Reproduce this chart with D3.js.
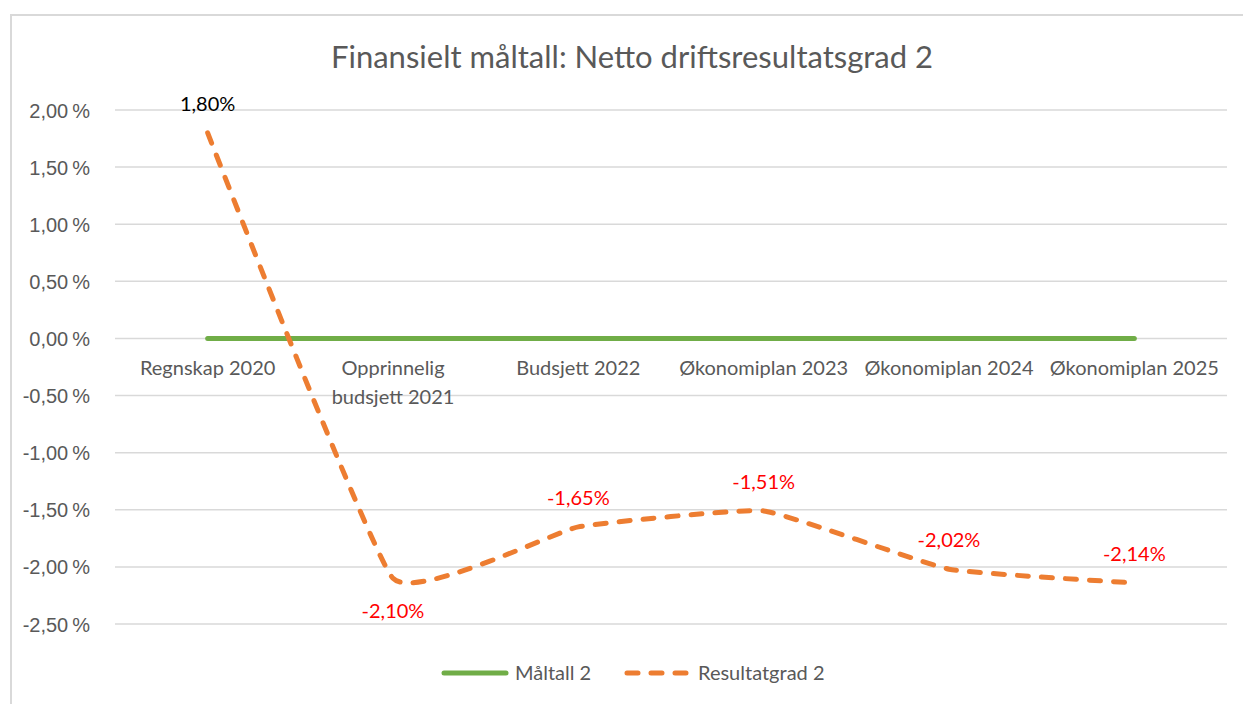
<!DOCTYPE html>
<meta charset="utf-8">
<style>
body { margin: 0; background: #fff; }
svg { font-family: Lato, "Open Sans", sans-serif; }
.grid line { stroke: #d9d9d9; stroke-width: 1.5; }
.axis--y text { fill: #595959; font-size: 20px; }
.cat { fill: #595959; font-size: 20px; }
</style>
<svg width="1243" height="704"></svg>
<script src="https://d3js.org/d3.v7.min.js"></script>
<script>

var categories = ["Regnskap 2020", "Opprinnelig budsjett 2021", "Budsjett 2022",
                  "Økonomiplan 2023", "Økonomiplan 2024", "Økonomiplan 2025"];
var maltall = [0, 0, 0, 0, 0, 0];
var resultatgrad = [1.80, -2.10, -1.65, -1.51, -2.02, -2.14];
var yTicks = [2.0, 1.5, 1.0, 0.5, 0, -0.5, -1.0, -1.5, -2.0, -2.5];

var svg = d3.select("svg"),
    plotLeft = 115, plotRight = 1227, plotTop = 110, plotBottom = 624;

// chart frame (left + top edge visible in the reference)
svg.append("path")
    .attr("d", "M11,704 V15 H1243")
    .attr("fill", "none")
    .attr("stroke", "#d9d9d9")
    .attr("stroke-width", 2);

svg.append("text")
    .attr("x", 632).attr("y", 68)
    .attr("text-anchor", "middle")
    .attr("fill", "#595959")
    .style("font-size", "31px")
    .text("Finansielt måltall: Netto driftsresultatsgrad 2");

var x = d3.scaleBand().domain(categories).range([plotLeft, plotRight]),
    y = d3.scaleLinear().domain([-2.5, 2.0]).range([plotBottom, plotTop]);

var fmt = function(v) { return v.toFixed(2).replace(".", ",") + "\u2009%"; };

svg.append("g").attr("class", "grid")
  .selectAll("line").data(yTicks).enter().append("line")
    .attr("x1", plotLeft).attr("x2", plotRight)
    .attr("y1", function(d) { return y(d); })
    .attr("y2", function(d) { return y(d); });

svg.append("g")
    .attr("class", "axis axis--y")
    .attr("transform", "translate(" + (plotLeft - 22) + ",0)")
    .call(d3.axisLeft(y).tickValues(yTicks).tickSize(0).tickFormat(fmt))
    .call(function(g) { g.select(".domain").remove(); })
    .selectAll("text").attr("dy", "0.35em");

// category labels sit under the zero line
var catG = svg.append("g");
categories.forEach(function(c) {
  var cx = x(c) + x.bandwidth() / 2;
  var lines = c === "Opprinnelig budsjett 2021" ? ["Opprinnelig", "budsjett 2021"] : [c];
  var t = catG.append("text").attr("class", "cat").attr("text-anchor", "middle");
  lines.forEach(function(l, i) {
    t.append("tspan").attr("x", cx).attr("y", y(0) + 37 + i * 29).text(l);
  });
});

var px = function(d, i) { return x(categories[i]) + x.bandwidth() / 2; };

svg.append("path")
    .datum(maltall)
    .attr("fill", "none")
    .attr("stroke", "#70ad47")
    .attr("stroke-width", 5)
    .attr("stroke-linecap", "round")
    .attr("d", d3.line().x(px).y(function(d) { return y(d); }));

svg.append("path")
    .datum(resultatgrad)
    .attr("fill", "none")
    .attr("stroke", "#ed7d31")
    .attr("stroke-width", 5)
    .attr("stroke-linecap", "round")
    .attr("stroke-dasharray", "11,13")
    .attr("d", d3.line().x(px).y(function(d) { return y(d); }).curve(d3.curveCardinal.tension(0.65)));

// data labels
var labelOffset = [-22, 40, -22, -22, -22, -22];
svg.append("g").selectAll("text").data(resultatgrad).enter().append("text")
    .attr("x", px)
    .attr("y", function(d, i) { return y(d) + labelOffset[i]; })
    .attr("text-anchor", "middle")
    .attr("fill", function(d) { return d < 0 ? "#ff0000" : "#000"; })
    .style("font-size", "20px")
    .text(function(d) { return d.toFixed(2).replace(".", ",") + "%"; });

// legend
var legend = [
  {name: "Måltall 2", color: "#70ad47", dash: null, x: 444},
  {name: "Resultatgrad 2", color: "#ed7d31", dash: "11,13", x: 627}
];
var lg = svg.append("g");
legend.forEach(function(l) {
  lg.append("line")
      .attr("x1", l.x).attr("x2", l.x + 62)
      .attr("y1", 673).attr("y2", 673)
      .attr("stroke", l.color).attr("stroke-width", 5)
      .attr("stroke-linecap", "round")
      .attr("stroke-dasharray", l.dash);
  lg.append("text")
      .attr("x", l.x + 71).attr("y", 673).attr("dy", "0.35em")
      .attr("fill", "#595959").style("font-size", "20px")
      .text(l.name);
});

</script>
